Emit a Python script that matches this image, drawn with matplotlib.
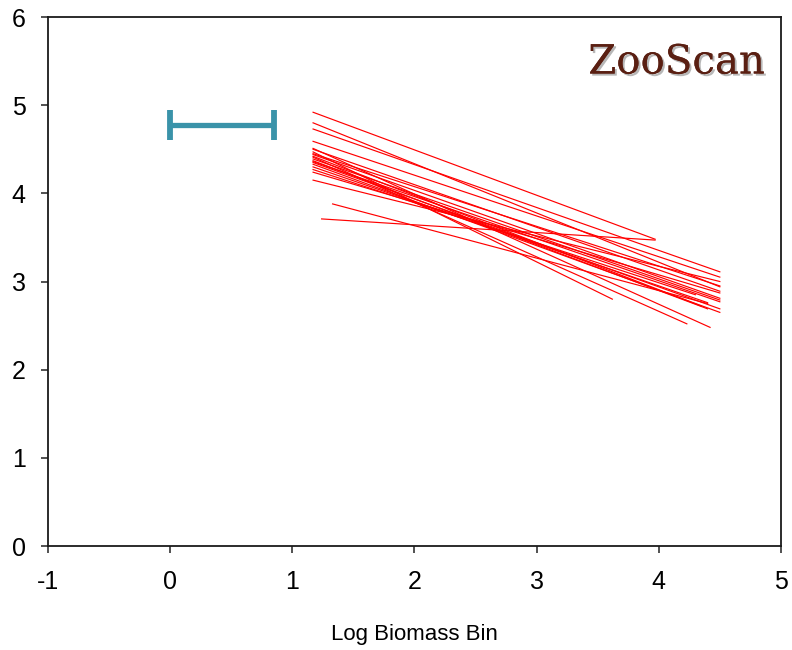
import matplotlib
matplotlib.use("Agg")
import matplotlib.pyplot as plt
import matplotlib.patheffects as pe

# Fitted size-spectrum lines: (x start, y start, x end, y end)
x_start = [1.17, 1.17, 1.17, 1.17, 1.17, 1.17, 1.17, 1.17, 1.17, 1.17, 1.17,
           1.17, 1.17, 1.17, 1.17, 1.17, 1.17, 1.33, 1.24, 1.17, 1.17, 1.17]
y_start = [4.92, 4.80, 4.73, 4.59, 4.51, 4.50, 4.47, 4.44, 4.41, 4.39, 4.37,
           4.35, 4.33, 4.30, 4.27, 4.24, 4.15, 3.88, 3.71, 4.45, 4.42, 4.36]
x_end = [3.97, 4.50, 4.50, 4.50, 4.42, 4.50, 3.62, 4.50, 4.23, 4.50, 4.40,
         4.50, 4.50, 4.40, 4.30, 4.50, 4.50, 4.40, 3.97, 4.50, 4.35, 4.50]
y_end = [3.48, 2.94, 3.11, 3.05, 2.48, 2.89, 2.80, 2.81, 2.52, 2.79, 2.69,
         2.69, 2.65, 2.76, 2.85, 2.87, 3.00, 2.75, 3.47, 2.95, 2.72, 2.77]

# Range bar
bar_x = [0.0, 0.85]
bar_y = 4.77

x_ticks = [-1, 0, 1, 2, 3, 4, 5]
y_ticks = [0, 1, 2, 3, 4, 5, 6]

plt.rcParams['font.family'] = ['Liberation Sans', 'DejaVu Sans']

fig = plt.figure(figsize=(7.92, 6.5), dpi=100)
ax = fig.add_axes([0.0606, 0.16, 0.9254, 0.8138])

for xs, ys, xe, ye in zip(x_start, y_start, x_end, y_end):
    ax.plot([xs, xe], [ys, ye], color='#FF0000', lw=0.85)

mid = (bar_x[0] + bar_x[1]) / 2
half = (bar_x[1] - bar_x[0]) / 2
ax.errorbar([mid], [bar_y], xerr=[half], fmt='none', ecolor='#3A93A9',
            elinewidth=3.8, capsize=11, capthick=4.2)

ax.text(0.978, 0.913, 'ZooScan', transform=ax.transAxes, ha='right', va='center',
        fontsize=29, color='#5A1F12', family=['DejaVu Serif'],
        path_effects=[pe.withSimplePatchShadow(offset=(1.5, -1.5), shadow_rgbFace='#888888', alpha=0.6), pe.Normal()])

ax.set_xlim(-1, 5)
ax.set_ylim(0, 6)
ax.set_xticks(x_ticks)
ax.set_yticks(y_ticks)
ax.set_xticklabels([str(t) for t in x_ticks])
ax.set_yticklabels([str(t) for t in y_ticks])
ax.tick_params(axis='both', direction='out', length=5, width=1.1, labelsize=18, color='#222222')
ax.tick_params(axis='x', pad=12)
ax.tick_params(axis='y', pad=11)
for s in ax.spines.values():
    s.set_linewidth(1.3)
    s.set_color('#1a1a1a')

ax.set_xlabel('Log Biomass Bin', fontsize=16, labelpad=22)

fig.savefig('out.png', dpi=100)
